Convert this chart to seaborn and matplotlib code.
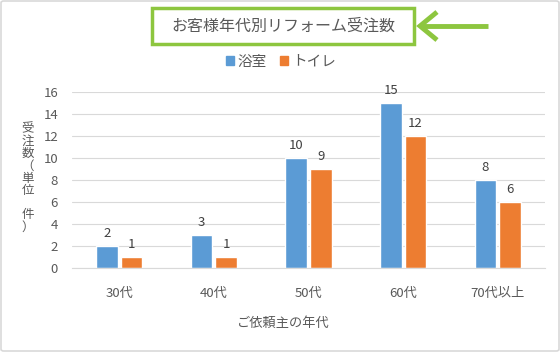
import matplotlib
matplotlib.use("Agg")
import matplotlib.pyplot as plt
import seaborn as sns
import pandas as pd
from matplotlib.patches import Rectangle, FancyBboxPatch

categories = ["30代", "40代", "50代", "60代", "70代以上"]
bath = [2, 3, 10, 15, 8]
toilet = [1, 1, 9, 12, 6]
series_names = ["浴室", "トイレ"]
title = "お客様年代別リフォーム受注数"
xlabel = "ご依頼主の年代"
ylabel_chars = ["受", "注", "数", "（", "単", "位", "　", "件", "）"]

sns.set_style("white")
plt.rcParams['font.family'] = ['Noto Sans CJK JP', 'DejaVu Sans']

df = pd.DataFrame({
    "age": categories * 2,
    "count": bath + toilet,
    "type": [series_names[0]] * len(categories) + [series_names[1]] * len(categories),
})

txt = "#595959"
colors = ["#5B9BD5", "#ED7D31"]

fig = plt.figure(figsize=(5.6, 3.52), dpi=100)
ax = fig.add_axes([72/560, 1-268/352, (545-72)/560, (268-92)/352])
sns.barplot(data=df, x="age", y="count", hue="type", palette=colors,
            width=0.52, gap=0.12, ax=ax, legend=False, saturation=1)

ax.set_ylim(0, 16)
ax.set_yticks(range(0, 17, 2))
ax.set_xlim(-0.5, len(categories) - 0.5)
ax.yaxis.grid(True, color="#D9D9D9", linewidth=0.8)
ax.set_axisbelow(True)
for s in ["top", "right", "left"]:
    ax.spines[s].set_visible(False)
ax.spines["bottom"].set_color("#D9D9D9")
ax.tick_params(axis="both", colors=txt, labelsize=9.5, length=0)
ax.tick_params(axis="x", pad=14)
ax.tick_params(axis="y", pad=10)
ax.set_xlabel("")
ax.set_ylabel("")

for cont in ax.containers:
    ax.bar_label(cont, padding=4, fontsize=9.5, color="#404040")

# axis titles
fig.text(283/560, 1-323/352, xlabel, ha="center", va="center", fontsize=9.5, color=txt)
fig.text(28/560, 1-178/352, "\n".join(ylabel_chars), ha="center", va="center",
         fontsize=9, color=txt, linespacing=0.92)

# legend
handles = [Rectangle((0, 0), 1, 1, color=c) for c in colors]
fig.legend(handles, series_names, loc="center", bbox_to_anchor=(281/560, 1-62/352),
           ncol=2, frameon=False, fontsize=10.5, handlelength=0.55, handleheight=0.55,
           columnspacing=0.9, handletextpad=0.25, labelcolor=txt)

# title box
fig.patches.append(Rectangle((152/560, 1-44/352), (414-152)/560, (44-8)/352,
                             transform=fig.transFigure, fill=False,
                             edgecolor="#8DC63F", linewidth=2.5))
fig.text(283/560, 1-26/352, title, ha="center", va="center", fontsize=11.5, color=txt)

# arrow
ax_ann = fig.add_axes([0, 0, 1, 1], facecolor="none")
ax_ann.set_axis_off()
ax_ann.set_xlim(0, 560)
ax_ann.set_ylim(352, 0)
ax_ann.plot([488, 420], [26, 26], color="#8DC63F", lw=3.5, solid_capstyle="butt")
ax_ann.plot([437, 420, 437], [12, 26, 40], color="#8DC63F", lw=3.5,
            solid_capstyle="butt", solid_joinstyle="miter")

# outer border
fig.patches.append(FancyBboxPatch((1/560, 1/352), 558/560, 350/352,
                                  boxstyle="round,pad=0,rounding_size=0.005",
                                  transform=fig.transFigure, fill=False,
                                  edgecolor="#D9D9D9", linewidth=1.2))

fig.savefig("out.png", dpi=100)
